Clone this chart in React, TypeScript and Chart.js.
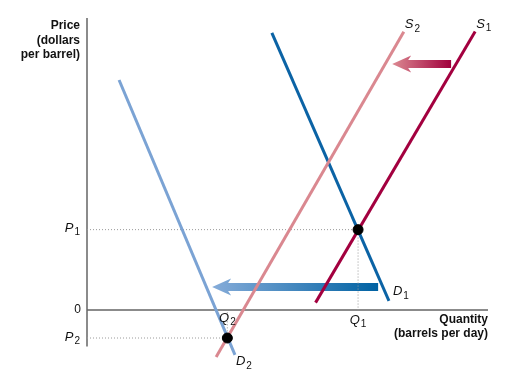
import { useEffect, useRef } from "react";
import { Chart, registerables } from "chart.js";

Chart.register(...registerables);

// ---- data (quantity on x, price on y; arbitrary units) ----
const supply1 = [{ x: 57, y: 2 }, { x: 96.8, y: 76.3 }];
const supply2 = [{ x: 32.2, y: -12.9 }, { x: 79, y: 76.2 }];
const demand1 = [{ x: 46.1, y: 75.9 }, { x: 75.3, y: 2.5 }];
const demand2 = [{ x: 8, y: 63 }, { x: 36.9, y: -12.3 }];
const equilibrium1 = { x: 67.6, y: 22 };
const equilibrium2 = { x: 35, y: -7.7 };
const demandShift = { from: 72.6, to: 31.2, y: 6.3 };
const supplyShift = { from: 90.8, to: 76.1, y: 67.4 };
const xRange = [0, 100];
const yRange = [-14, 80];
const axisYBottom = -10;
const priceTitle = ["Price", "(dollars", "per barrel)"];
const quantityTitle = ["Quantity", "(barrels per day)"];

const FONT = '"Liberation Sans", Arial, Helvetica, sans-serif';

function drawSub(ctx: CanvasRenderingContext2D, main: string, sub: string, x: number, y: number, align: "left" | "right" | "center", italic = true) {
  ctx.save();
  ctx.fillStyle = "#111";
  ctx.textBaseline = "middle";
  const mainFont = `${italic ? "italic " : ""}13px ${FONT}`;
  const subFont = `10px ${FONT}`;
  ctx.font = mainFont;
  const w1 = ctx.measureText(main).width;
  ctx.font = subFont;
  const w2 = ctx.measureText(sub).width;
  const total = w1 + w2 + 1;
  let left = x;
  if (align === "right") left = x - total;
  if (align === "center") left = x - total / 2;
  ctx.textAlign = "left";
  ctx.font = mainFont;
  ctx.fillText(main, left, y);
  ctx.font = subFont;
  ctx.fillText(sub, left + w1 + 1, y + 4);
  ctx.restore();
}

function drawArrow(ctx: CanvasRenderingContext2D, xFrom: number, xTo: number, y: number, dark: string, light: string) {
  const shaft = 8;
  const headLen = 16;
  const headH = 17;
  const g = ctx.createLinearGradient(xFrom, 0, xTo, 0);
  g.addColorStop(0, dark);
  g.addColorStop(1, light);
  ctx.save();
  ctx.fillStyle = g;
  ctx.beginPath();
  ctx.moveTo(xFrom, y - shaft / 2);
  ctx.lineTo(xTo + headLen, y - shaft / 2);
  ctx.lineTo(xTo + headLen + 3, y - headH / 2);
  ctx.lineTo(xTo, y);
  ctx.lineTo(xTo + headLen + 3, y + headH / 2);
  ctx.lineTo(xTo + headLen, y + shaft / 2);
  ctx.lineTo(xFrom, y + shaft / 2);
  ctx.closePath();
  ctx.fill();
  ctx.restore();
}

const decor = {
  id: "decor",
  beforeDatasetsDraw(chart: any) {
    const ctx: CanvasRenderingContext2D = chart.ctx;
    const xs = chart.scales.x;
    const ys = chart.scales.y;
    const x0 = xs.getPixelForValue(0);
    const y0 = ys.getPixelForValue(0);
    ctx.save();
    ctx.strokeStyle = "#666";
    ctx.lineWidth = 1.5;
    ctx.beginPath();
    ctx.moveTo(x0, ys.getPixelForValue(yRange[1]));
    ctx.lineTo(x0, ys.getPixelForValue(axisYBottom));
    ctx.moveTo(x0, y0);
    ctx.lineTo(xs.getPixelForValue(xRange[1]), y0);
    ctx.stroke();
    ctx.restore();

    drawArrow(ctx, xs.getPixelForValue(demandShift.from), xs.getPixelForValue(demandShift.to), ys.getPixelForValue(demandShift.y), "#0062a3", "#86acd9");
    drawArrow(ctx, xs.getPixelForValue(supplyShift.from), xs.getPixelForValue(supplyShift.to), ys.getPixelForValue(supplyShift.y), "#a0003c", "#dc8a92");
  },
  afterDatasetsDraw(chart: any) {
    const ctx: CanvasRenderingContext2D = chart.ctx;
    const xs = chart.scales.x;
    const ys = chart.scales.y;
    const x0 = xs.getPixelForValue(0);
    const y0 = ys.getPixelForValue(0);
    const top = ys.getPixelForValue(yRange[1]);

    ctx.save();
    ctx.fillStyle = "#111";
    ctx.font = `bold 12px ${FONT}`;
    ctx.textAlign = "right";
    ctx.textBaseline = "middle";
    priceTitle.forEach((t, i) => ctx.fillText(t, x0 - 7, top + 8 + i * 14.5));
    const xr = xs.getPixelForValue(xRange[1]);
    quantityTitle.forEach((t, i) => ctx.fillText(t, xr, y0 + 10 + i * 14));
    ctx.font = `12px ${FONT}`;
    ctx.fillText("0", x0 - 6, y0);
    ctx.restore();

    drawSub(ctx, "P", "1", x0 - 7, ys.getPixelForValue(equilibrium1.y) - 1, "right");
    drawSub(ctx, "P", "2", x0 - 7, ys.getPixelForValue(equilibrium2.y) - 1, "right");
    drawSub(ctx, "Q", "1", xs.getPixelForValue(equilibrium1.x), y0 + 10, "center");
    drawSub(ctx, "Q", "2", xs.getPixelForValue(equilibrium2.x), y0 + 8, "center");
    drawSub(ctx, "S", "2", xs.getPixelForValue(supply2[1].x) + 1, ys.getPixelForValue(supply2[1].y) - 7, "left");
    drawSub(ctx, "S", "1", xs.getPixelForValue(supply1[1].x) + 1, ys.getPixelForValue(supply1[1].y) - 7, "left");
    drawSub(ctx, "D", "1", xs.getPixelForValue(demand1[1].x) + 4, ys.getPixelForValue(demand1[1].y) - 9, "left");
    drawSub(ctx, "D", "2", xs.getPixelForValue(demand2[1].x) + 1, ys.getPixelForValue(demand2[1].y) + 7, "left");
  },
};

export default function App() {
  const ref = useRef<HTMLCanvasElement | null>(null);
  useEffect(() => {
    if (!ref.current) return;
    const line = (data: any[], color: string) => ({
      data,
      showLine: true,
      borderColor: color,
      borderWidth: 3,
      pointRadius: 0,
      clip: false,
      order: 1,
    });
    const guide = (p: { x: number; y: number }) => ({
      data: [{ x: 0, y: p.y }, { x: p.x, y: p.y }, { x: p.x, y: 0 }],
      showLine: true,
      borderColor: "#9a9a9a",
      borderWidth: 1,
      borderDash: [1, 2],
      pointRadius: 0,
      clip: false,
      order: 2,
    });
    const chart = new Chart(ref.current, {
      type: "scatter",
      data: {
        datasets: [
          guide(equilibrium1),
          guide(equilibrium2),
          line(demand2, "#7ba3d4"),
          line(supply2, "#da8890"),
          line(demand1, "#0b63a5"),
          line(supply1, "#a3003f"),
          {
            data: [equilibrium1, equilibrium2],
            pointRadius: 5,
            pointBackgroundColor: "#000",
            pointBorderColor: "#000",
            showLine: false,
            clip: false,
            order: 0,
          },
        ] as any,
      },
      options: {
        responsive: false,
        maintainAspectRatio: false,
        animation: false,
        layout: { padding: { left: 87, right: 40, top: 18, bottom: 18 } },
        scales: {
          x: { type: "linear", min: xRange[0], max: xRange[1], display: false },
          y: { type: "linear", min: yRange[0], max: yRange[1], display: false },
        },
        plugins: { legend: { display: false }, tooltip: { enabled: false } },
        events: [],
      },
      plugins: [decor],
    });
    return () => chart.destroy();
  }, []);
  return (
    <div style={{ position: "fixed", left: 0, top: 0, width: 528, height: 379, background: "#fff" }}>
      <canvas ref={ref} width={528} height={379} style={{ width: 528, height: 379, display: "block" }} />
    </div>
  );
}
